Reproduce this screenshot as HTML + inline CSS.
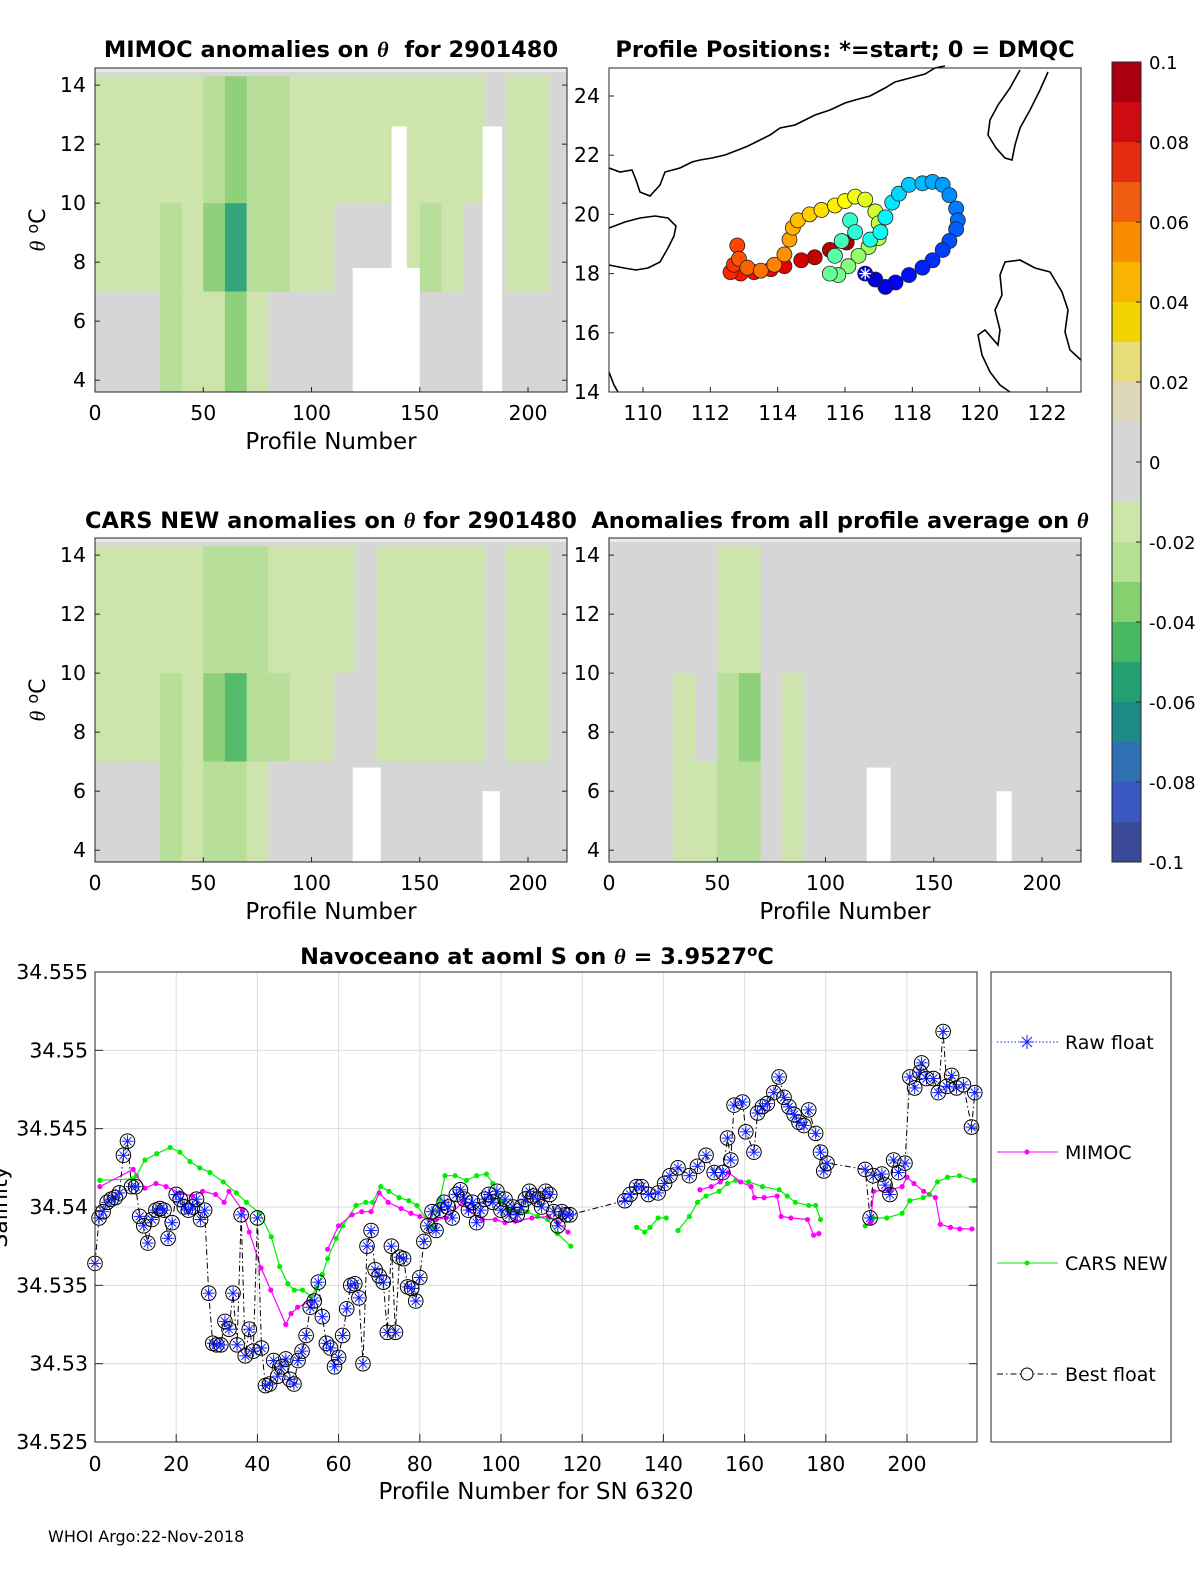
<!DOCTYPE html>
<html><head><meta charset="utf-8"><style>
body{margin:0;background:#fff;}
svg{display:block;font-family:"DejaVu Sans","Liberation Sans",sans-serif;}
</style></head><body>
<svg id="fig" width="1200" height="1575" viewBox="0 0 1200 1575" xmlns="http://www.w3.org/2000/svg">
<rect width="1200" height="1575" fill="#fff"/>
<text x="331" y="57" font-size="22.5" font-weight="bold" text-anchor="middle" xml:space="preserve">MIMOC anomalies on <tspan font-style="italic" font-family="Liberation Serif">θ</tspan>  for 2901480</text>
<text x="845" y="57" font-size="22.5" font-weight="bold" text-anchor="middle">Profile Positions: *=start; 0 = DMQC</text>
<text x="331" y="528" font-size="22.5" font-weight="bold" text-anchor="middle">CARS NEW anomalies on <tspan font-style="italic" font-family="Liberation Serif">θ</tspan> for 2901480</text>
<text x="840" y="528" font-size="22.5" font-weight="bold" text-anchor="middle">Anomalies from all profile average on <tspan font-style="italic" font-family="Liberation Serif">θ</tspan></text>
<text x="537" y="964" font-size="22.5" font-weight="bold" text-anchor="middle">Navoceano at aoml S on <tspan font-style="italic" font-family="Liberation Serif">θ</tspan> = 3.9527<tspan dy="-8" font-size="15">o</tspan><tspan dy="8">C</tspan></text>
<text x="48" y="1542" font-size="16">WHOI Argo:22-Nov-2018</text>
<g id="root"></g>
</svg>
<script>
// ---------- DATA ----------
const mimocUpper=[-0.015,-0.015,-0.015,-0.015,-0.01,-0.02,-0.03,-0.02,-0.02,-0.015,-0.015,-0.012,-0.01,-0.01,-0.01,-0.015,-0.015,-0.01,0,-0.01,-0.01,-0.005];
const mimocMid=[-0.015,-0.015,-0.01,-0.02,-0.015,-0.03,-0.05,-0.025,-0.02,-0.015,-0.01,-0.008,-0.005,-0.005,-0.015,-0.02,-0.01,-0.005,0,-0.015,-0.015,-0.005];
const mimocLow=[0,-0.005,-0.005,-0.02,-0.01,-0.015,-0.03,-0.01,-0.005,0,0,0,0,0,0,0,0,0,0,-0.005,0,0];
const carsUpper=[-0.012,-0.012,-0.012,-0.015,-0.01,-0.02,-0.025,-0.02,-0.018,-0.015,-0.012,-0.01,-0.008,-0.01,-0.012,-0.015,-0.012,-0.01,0,-0.01,-0.01,-0.005];
const carsMid=[-0.012,-0.012,-0.01,-0.02,-0.015,-0.03,-0.045,-0.025,-0.02,-0.015,-0.012,-0.008,-0.005,-0.012,-0.015,-0.018,-0.015,-0.01,0,-0.015,-0.015,-0.005];
const carsLow=[0,-0.005,-0.005,-0.02,-0.012,-0.02,-0.025,-0.01,-0.005,0,0,0,0,0,0,0,0,0,0,-0.005,0,0];
const avgUpper=[0,0,0,-0.005,0,-0.01,-0.015,0,0,0,0,0,0,0,0,0,0,0,0,0,0,0];
const avgMid=[0.008,0,0.005,-0.012,-0.005,-0.02,-0.035,0,-0.012,0,0,0,0,0,0,-0.008,0,0,0,0,0.005,0.008];
const avgLow=[0.005,0,0,-0.015,-0.01,-0.02,-0.025,-0.005,-0.01,0,0,0,0,0,0,0,0,0,0,0,0,0.005];
const trackLon=[116.6,116.9,117.2,117.5,117.9,118.3,118.6,118.9,119.1,119.3,119.35,119.3,119.1,118.9,118.6,118.3,117.9,117.6,117.4,117.2,117.05,116.75,116.3,116.15,115.9,115.7,115.55,115.8,116.1,116.4,116.7,117.0,117.0,116.9,116.6,116.3,116.0,115.7,115.3,114.95,114.6,114.45,114.35,114.2,113.9,113.5,113.1,112.85,112.8,112.7,112.6,112.9,113.3,113.8,114.2,114.7,115.1,115.55,116.05];
const trackLat=[18.0,17.8,17.55,17.7,17.95,18.2,18.45,18.8,19.1,19.5,19.8,20.2,20.65,21.0,21.1,21.05,21.0,20.7,20.4,19.9,19.4,19.15,19.4,19.8,19.1,18.6,18.0,17.95,18.25,18.6,18.9,19.2,19.7,20.1,20.5,20.6,20.45,20.3,20.15,20.0,19.8,19.55,19.15,18.65,18.3,18.1,18.2,18.5,18.95,18.3,18.05,18.0,18.05,18.15,18.25,18.45,18.55,18.8,19.05];
const bestP=[0,1,2,3,4,5,6,7,8,9,10,11,12,13,14,15,16,17,18,19,20,21,22,23,24,25,26,27,28,29,30,31,32,33,34,35,36,37,38,39,40,41,42,43,44,45,46,47,48,49,50,51,52,53,54,55,56,57,58,59,60,61,62,63,64,65,66,67,68,69,70,71,72,73,74,75,76,77,78,79,80,81,82,83,84,85,86,87,88,89,90,91,92,93,94,95,96,97,98,99,100,101,102,103,104,105,106,107,108,109,110,111,112,113,114,115,116,117,130.5,131.8,133.4,134.6,136.3,138.7,140.3,141.6,143.6,146.4,148.4,150.5,152.5,154.6,155.8,156.6,157.4,159.5,160.3,162.3,163.2,164.4,165.6,167.2,168.5,169.7,170.9,172.2,173.4,174.6,175.8,177.5,178.7,179.5,180.3,189.7,190.9,191.7,193.8,194.6,195.8,196.7,197.9,199.5,200.7,201.9,203.2,203.6,204.8,206.5,207.7,208.9,209.8,211,212.2,213.9,215.9,216.7];
const bestV=[34.5364,34.5393,34.5397,34.5403,34.5405,34.5406,34.5409,34.5433,34.5442,34.5413,34.5413,34.5394,34.5388,34.5377,34.5392,34.5398,34.5399,34.5398,34.5380,34.5390,34.5408,34.5405,34.5400,34.5398,34.5400,34.5405,34.5392,34.5398,34.5345,34.5313,34.5312,34.5312,34.5327,34.5322,34.5345,34.5312,34.5395,34.5305,34.5322,34.5308,34.5393,34.5310,34.5286,34.5287,34.5302,34.5292,34.5298,34.5303,34.5290,34.5287,34.5302,34.5308,34.5318,34.5336,34.5340,34.5352,34.5330,34.5313,34.5310,34.5298,34.5304,34.5318,34.5335,34.5350,34.5351,34.5342,34.5300,34.5375,34.5385,34.5360,34.5356,34.5352,34.5320,34.5375,34.5320,34.5368,34.5367,34.5349,34.5348,34.5340,34.5355,34.5378,34.5388,34.5397,34.5385,34.5398,34.5403,34.5400,34.5393,34.5408,34.5411,34.5405,34.5398,34.5403,34.5390,34.5398,34.5405,34.5408,34.5403,34.5410,34.5398,34.5405,34.5395,34.5400,34.5395,34.5400,34.5405,34.5410,34.5407,34.5405,34.5400,34.5410,34.5408,34.5397,34.5388,34.5397,34.5395,34.5395,34.5404,34.5408,34.5413,34.5413,34.5408,34.5409,34.5415,34.5420,34.5425,34.5420,34.5426,34.5433,34.5422,34.5422,34.5444,34.5430,34.5465,34.5467,34.5448,34.5435,34.5460,34.5464,34.5466,34.5473,34.5483,34.5470,34.5464,34.5459,34.5454,34.5452,34.5462,34.5447,34.5435,34.5423,34.5428,34.5424,34.5393,34.5420,34.5421,34.5414,34.5408,34.5430,34.5422,34.5428,34.5483,34.5476,34.5486,34.5492,34.5482,34.5482,34.5473,34.5512,34.5477,34.5484,34.5476,34.5478,34.5451,34.5473];
const mimP=[1.2,9.4,12.3,15,17.5,20.8,24,26.5,29.7,31.8,33,36.3,38,40.9,43.3,47,48.3,49.9,53.2,null,57.3,60,63.3,65.7,68,70,72.2,75.4,77.8,80,82.5,84,86.5,90.6,92,95.4,98.6,101,103.5,107.6,111.7,114,116.5,null,149,151.8,154,156,159,161.6,162.4,164.8,168,169,171.4,175.5,177,178.3,null,191,191.8,195.9,198.8,200,201.7,204.1,207,208.2,210.7,213,216];
const mimV=[34.5413,34.5424,34.5412,34.5415,34.5413,34.5409,34.5407,34.5410,34.5408,34.5403,34.5410,34.5398,34.5384,34.5361,34.5347,34.5325,34.5332,34.5336,34.5340,null,34.5373,34.5388,34.5395,34.5397,34.5397,34.5409,34.5403,34.5399,34.5396,34.5394,34.5392,34.5392,34.5393,34.5403,34.5398,34.5392,34.5392,34.5390,34.5391,34.5393,34.5394,34.5390,34.5384,null,34.5411,34.5413,34.5416,34.5422,34.5416,34.5413,34.5406,34.5406,34.5407,34.5394,34.5393,34.5392,34.5382,34.5383,null,34.5390,34.5410,34.5411,34.5413,34.5419,34.5415,34.5410,34.5406,34.5389,34.5387,34.5386,34.5386];
const carsP=[1.2,9.4,10.2,12.3,15.2,18.5,20.9,23.4,25.8,28.3,31.6,34.8,37.3,40.6,43.4,45.5,47.5,49.1,51.1,53.2,54.5,56,57.3,59.4,61,64.3,66.7,68.4,70.4,72.4,74.9,77.3,79.3,83,85,86.2,88.7,91.5,94,96.4,98,100,102.1,104.1,106.5,109,111.5,113.9,117.2,null,133.4,135.4,136.7,138.7,140.7,null,143.6,146.4,148.4,150.5,153.7,155.8,157.8,161,164.4,168.5,170.5,172.5,175.8,177.5,178.7,null,189.7,191.7,195,198.8,200.7,204,205.5,207.5,210,212.9,216.5];
const carsV=[34.5417,34.5418,34.5420,34.5430,34.5434,34.5438,34.5435,34.5429,34.5425,34.5422,34.5416,34.5409,34.5403,34.5396,34.5381,34.5362,34.5351,34.5347,34.5347,34.5343,34.5348,34.5357,34.5367,34.5380,34.5388,34.5401,34.5403,34.5403,34.5413,34.5410,34.5406,34.5404,34.5401,34.5387,34.5405,34.5420,34.5420,34.5417,34.5420,34.5421,34.5415,34.5404,34.5398,34.5396,34.5397,34.5394,34.5392,34.5383,34.5375,null,34.5387,34.5384,34.5387,34.5393,34.5393,null,34.5385,34.5394,34.5403,34.5407,34.5410,34.5415,34.5417,34.5416,34.5413,34.5411,34.5407,34.5403,34.5401,34.5401,34.5392,null,34.5388,34.5393,34.5393,34.5396,34.5404,34.5406,34.5408,34.5416,34.5419,34.5420,34.5417];
const salXTicks=[0,20,40,60,80,100,120,140,160,180,200];
const salYTicks=[34.525,34.53,34.535,34.54,34.545,34.55,34.555];
const thetaTicks=[4,6,8,10,12,14];
const profTicks=[0,50,100,150,200];
const lonTicks=[110,112,114,116,118,120,122];
const latTicks=[14,16,18,20,22,24];
const cbLabels=["0.1","0.08","0.06","0.04","0.02","0","-0.02","-0.04","-0.06","-0.08","-0.1"];
const cbColors=["#a80010","#cc0c10","#e42c10","#f05c10","#f88c00","#f8b400","#f0d400","#e6dc78","#dcd8b8","#d6d6d6","#d6d6d6","#cce6a8","#b4e094","#86d070","#48b862","#22a070","#1e8a88","#2e70b2","#3a58c0","#3a4a98"];

// ---------- HELPERS ----------
const NS="http://www.w3.org/2000/svg";
const root=document.getElementById('root');
function mk(tag,attrs,parent){const e=document.createElementNS(NS,tag);for(const k in attrs)e.setAttribute(k,attrs[k]);(parent||root).appendChild(e);return e;}
function cmap(v){let i=Math.floor((0.1-v)/0.01);if(v===0)i=9;i=Math.max(0,Math.min(19,i));return cbColors[i];}
function txt(x,y,s,size,anchor,parent){const t=mk('text',{x:x,y:y,'font-size':size,'text-anchor':anchor||'middle'},parent);t.textContent=s;return t;}

// ---------- HEATMAP PANELS ----------
function heatPanel(name,L,T,R,B,up,mid,low,gaps,showY){
  const g=mk('g',{});
  
  
  const sx=p=>L+(p)*(R-L)/218;
  const sy=th=>T+(14.58-th)*(B-T)/(14.58-3.6);
  mk('rect',{x:L,y:T,width:R-L,height:B-T,fill:'#d6d6d6'},g);
  for(let i=0;i<up.length;i++){
    const x0=sx(i*10),x1=sx(Math.min(218,i*10+10));
    const bands=[[14.3,10,up[i]],[10,7,mid[i]],[7,3.6,low[i]]];
    bands.forEach(b=>{
      const r=mk('rect',{x:x0,y:sy(b[0]),width:x1-x0+0.5,height:sy(b[1])-sy(b[0]),fill:cmap(b[2]),opacity:0.9},g);
      
      
    });
  }
  gaps.forEach(q=>mk('rect',{x:sx(q[0]),y:sy(q[2]),width:sx(q[1])-sx(q[0]),height:B-sy(q[2]),fill:'#fff'},g));
  mk('rect',{x:L,y:T,width:R-L,height:sy(14.45)-T,fill:'#fff',opacity:0.5},g);
  mk('rect',{x:L,y:T,width:R-L,height:B-T,fill:'none',stroke:'#262626','stroke-width':1},g);
  thetaTicks.forEach(t=>{const y=sy(t);mk('line',{x1:L,x2:L+5,y1:y,y2:y,stroke:'#262626'},g);mk('line',{x1:R,x2:R-5,y1:y,y2:y,stroke:'#262626'},g);txt(L-9,y+7,String(t),20.5,'end',g);});
  profTicks.forEach(t=>{const x=sx(t);mk('line',{x1:x,x2:x,y1:B,y2:B-5,stroke:'#262626'},g);txt(x,B+28,String(t),20.5,'middle',g);});
  txt((L+R)/2,B+57,'Profile Number',23,'middle',g);
  if(showY){const t=mk('text',{x:0,y:0,'font-size':22,'text-anchor':'middle',transform:`translate(${L-50},${(T+B)/2}) rotate(-90)`},g);t.innerHTML='<tspan font-style="italic" font-family="Liberation Serif">θ</tspan> <tspan dy="-7" font-size="16">o</tspan><tspan dy="7">C</tspan>';}
}
heatPanel('mimoc-heatmap',95,68,567,392,mimocUpper,mimocMid,mimocLow,[[119,150,7.8],[137,144,12.6],[179,188,12.6]],true);
heatPanel('cars-heatmap',95,538,567,862,carsUpper,carsMid,carsLow,[[119,132,6.8],[179,187,6.0]],true);
heatPanel('avg-heatmap',609,538,1081,862,avgUpper,avgMid,avgLow,[[119,130,6.8],[179,186,6.0]],false);

// ---------- MAP ----------
(function(){
  const L=609,T=68,R=1081,B=392;
  const g=mk('g',{});
  
  
  const sx=lon=>643+(lon-110)*33.67, sy=lat=>96+(24-lat)*29.6;
  mk('rect',{x:L,y:T,width:R-L,height:B-T,fill:'#fff'},g);
  const coast=[
   "M609,168 L620,172 L632,170 L636,180 L640,192 L650,196 L660,185 L665,172 L680,168 L692,162 L700,160 L712,158 L725,155 L738,150 L748,146 L760,140 L770,135 L780,128 L795,125 L805,120 L815,115 L830,110 L845,103 L855,100 L870,96 L885,88 L895,82 L910,78 L925,74 L935,68 L945,66",
   "M609,228 L625,222 L640,218 L655,216 L668,218 L676,226 L674,236 L668,248 L660,262 L648,268 L636,270 L624,268 L609,265",
   "M1020,70 L1010,88 L998,105 L990,120 L988,135 L996,148 L1005,158 L1012,160 L1015,145 L1020,128 L1030,110 L1040,90 L1048,72",
   "M1081,360 L1070,350 L1065,332 L1068,310 L1062,292 L1050,272 L1035,268 L1020,260 L1005,262 L1000,275 L1002,295 L995,310 L1000,330 L998,345 L985,330 L978,335 L982,355 L990,372 L1000,385 L1010,392",
   "M609,372 L614,385 L618,392"
  ];
  coast.forEach(d=>{const p=mk('path',{d:d,fill:'none',stroke:'#000','stroke-width':1.6},g);});
  const n=trackLon.length;
  function jet(t){const r=Math.max(0,Math.min(1,1.5-Math.abs(4*t-3))),gg=Math.max(0,Math.min(1,1.5-Math.abs(4*t-2))),b=Math.max(0,Math.min(1,1.5-Math.abs(4*t-1)));return `rgb(${Math.round(r*255)},${Math.round(gg*255)},${Math.round(b*255)})`;}
  for(let i=n-1;i>=0;i--){
    const c=mk('circle',{cx:sx(trackLon[i]),cy:sy(trackLat[i]),r:7.5,fill:jet(0.08+0.88*i/(n-1)),stroke:'#222','stroke-width':0.8},g);
    
    
  }
  const x0=sx(trackLon[0]),y0=sy(trackLat[0]);
  for(let a=0;a<4;a++){const an=a*Math.PI/4;mk('line',{x1:x0-6*Math.cos(an),y1:y0-6*Math.sin(an),x2:x0+6*Math.cos(an),y2:y0+6*Math.sin(an),stroke:'#fff','stroke-width':1.3},g);}
  mk('rect',{x:L,y:T,width:R-L,height:B-T,fill:'none',stroke:'#262626'},g);
  lonTicks.forEach(t=>{const x=sx(t);mk('line',{x1:x,x2:x,y1:B,y2:B-5,stroke:'#262626'},g);txt(x,B+28,String(t),20.5,'middle',g);});
  latTicks.forEach(t=>{const y=sy(t);mk('line',{x1:L,x2:L+5,y1:y,y2:y,stroke:'#262626'},g);txt(L-9,y+7,String(t),20.5,'end',g);});
})();

// ---------- COLORBAR ----------
(function(){
  const g=mk('g',{});
  
  
  const T=62,B=862,L=1112,W=29,h=(B-T)/cbColors.length;
  cbColors.forEach((c,i)=>mk('rect',{x:L,y:T+i*h,width:W,height:h+0.5,fill:c},g));
  mk('rect',{x:L,y:T,width:W,height:B-T,fill:'none',stroke:'#262626'},g);
  cbLabels.forEach((s,i)=>{const y=T+i*(B-T)/10;mk('line',{x1:L+W-5,x2:L+W,y1:y,y2:y,stroke:'#262626'},g);txt(L+W+8,y+7,s,18,'start',g);});
})();

// ---------- SALINITY CHART ----------
(function(){
  const L=95,T=972,R=977,B=1442;
  const sx=p=>L+p*4.06, sy=v=>T+(34.555-v)*15667;
  const g=mk('g',{});
  
  
  mk('rect',{x:L,y:T,width:R-L,height:B-T,fill:'#fff'},g);
  salXTicks.forEach(t=>{const x=sx(t);mk('line',{x1:x,x2:x,y1:T,y2:B,stroke:'#dcdcdc'},g);mk('line',{x1:x,x2:x,y1:B,y2:B-8,stroke:'#262626'},g);txt(x,B+29,String(t),20.5,'middle',g);});
  salYTicks.forEach(t=>{const y=sy(t);mk('line',{x1:L,x2:R,y1:y,y2:y,stroke:'#dcdcdc'},g);mk('line',{x1:L,x2:L+8,y1:y,y2:y,stroke:'#262626'},g);mk('line',{x1:R,x2:R-8,y1:y,y2:y,stroke:'#262626'},g);txt(L-7,y+7,t.toFixed(3).replace(/0+$/,'').replace(/\.$/,''),20.5,'end',g);});
  function series(P,V,color,name){
    let d='',pen=false;
    for(let i=0;i<P.length;i++){if(P[i]===null){pen=false;continue;}d+=(pen?'L':'M')+sx(P[i]).toFixed(1)+','+sy(V[i]).toFixed(1)+' ';pen=true;}
    const p=mk('path',{d:d,fill:'none',stroke:color,'stroke-width':1.2},g);
    
    
    for(let i=0;i<P.length;i++){if(P[i]===null)continue;const c=mk('circle',{cx:sx(P[i]),cy:sy(V[i]),r:2.6,fill:color},g);
      
      }
  }
  series(carsP,carsV,'#00ee00','cars-new');
  series(mimP,mimV,'#ff00ff','mimoc');
  let d='';bestP.forEach((p,i)=>{d+=(i?'L':'M')+sx(p).toFixed(1)+','+sy(bestV[i]).toFixed(1)+' ';});
  const ln=mk('path',{d:d,fill:'none',stroke:'#000','stroke-width':1,'stroke-dasharray':'6,3,1.5,3'},g);
  
  
  bestP.forEach((p,i)=>{
    const x=sx(p),y=sy(bestV[i]);
    const m=mk('g',{},g);
    
    
    mk('line',{x1:x-6,x2:x+6,y1:y,y2:y,stroke:'#1020ff','stroke-width':1},m);
    mk('line',{x1:x,x2:x,y1:y-6,y2:y+6,stroke:'#1020ff','stroke-width':1},m);
    mk('line',{x1:x-4,x2:x+4,y1:y-4,y2:y+4,stroke:'#1020ff','stroke-width':1},m);
    mk('line',{x1:x-4,x2:x+4,y1:y+4,y2:y-4,stroke:'#1020ff','stroke-width':1},m);
    mk('circle',{cx:x,cy:y,r:7.3,fill:'none',stroke:'#000','stroke-width':1},m);
  });
  mk('rect',{x:L,y:T,width:R-L,height:B-T,fill:'none',stroke:'#262626'},g);
  txt((L+R)/2,B+57,'Profile Number for SN 6320',23,'middle',g);
  const yl=mk('text',{x:0,y:0,'font-size':22,'text-anchor':'middle',transform:`translate(7,${(T+B)/2}) rotate(-90)`},g);
  yl.textContent='Salinity';
  const lg=mk('g',{});
  
  
  mk('rect',{x:991,y:972,width:180,height:470,fill:'#fff',stroke:'#262626'},lg);
  const ent=[[1042,'Raw float','raw'],[1152,'MIMOC','mim'],[1263,'CARS NEW','cars'],[1374,'Best float','best']];
  ent.forEach(e=>{
    const y=e[0];
    const eg=mk('g',{},lg);
    
    
    if(e[2]==='raw'){mk('line',{x1:997,x2:1058,y1:y,y2:y,stroke:'#1020ff','stroke-dasharray':'1.5,2'},eg);
      [[-7,0,7,0],[0,-7,0,7],[-5,-5,5,5],[-5,5,5,-5]].forEach(q=>mk('line',{x1:1027+q[0],y1:y+q[1],x2:1027+q[2],y2:y+q[3],stroke:'#1020ff'},eg));}
    if(e[2]==='mim'){mk('line',{x1:997,x2:1058,y1:y,y2:y,stroke:'#ff00ff'},eg);mk('circle',{cx:1027,cy:y,r:2.5,fill:'#ff00ff'},eg);}
    if(e[2]==='cars'){mk('line',{x1:997,x2:1058,y1:y,y2:y,stroke:'#00ee00'},eg);mk('circle',{cx:1027,cy:y,r:2.5,fill:'#00ee00'},eg);}
    if(e[2]==='best'){mk('line',{x1:997,x2:1058,y1:y,y2:y,stroke:'#000','stroke-dasharray':'6,3,1.5,3'},eg);mk('circle',{cx:1027,cy:y,r:6,fill:'#fff',stroke:'#000'},eg);}
    txt(1065,y+7,e[1],19,'start',eg);
  });
})();
</script>
</body></html>
